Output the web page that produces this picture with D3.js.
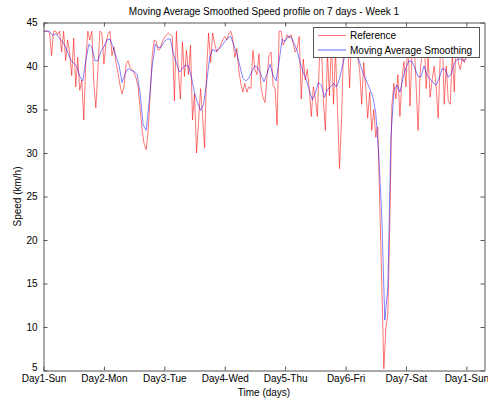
<!DOCTYPE html>
<html><head><meta charset="utf-8">
<script src="https://cdn.jsdelivr.net/npm/d3@7"></script>
<style>
html,body{margin:0;padding:0;background:#fff;}
svg{display:block;font-family:"Liberation Sans",Arial,Helvetica,sans-serif;}
</style></head>
<body>
<svg id="chart" width="488" height="400"></svg>
<script>
const title = "Moving Average Smoothed Speed profile on 7 days - Week 1";
const xLabel = "Time (days)";
const yLabel = "Speed (km/h)";
const dayTickLabels = ["Day1-Sun","Day2-Mon","Day3-Tue","Day4-Wed","Day5-Thu","Day6-Fri","Day7-Sat","Day1-Sun"];
const dayTickValues = [0,1,2,3,4,5,6,7];
const speedTicks = [5,10,15,20,25,30,35,40,45];
const seriesNames = ["Reference","Moving Average Smoothing"];

// Reference speed, one sample every 1/30 day
const refStepDays = 1/30;
const refSpeed = [
44.0,44.0,44.0,43.8,41.2,44.0,44.0,43.6,44.0,41.6,
44.0,40.6,43.0,41.5,38.9,43.2,37.6,41.0,37.2,38.4,
33.8,40.5,44.0,43.0,44.0,38.0,35.2,39.5,44.0,43.8,
40.2,42.6,43.6,44.0,41.2,42.2,40.4,39.2,37.8,36.8,
37.6,40.2,40.6,39.8,39.6,39.2,38.6,37.6,35.0,32.6,
31.0,30.4,32.6,36.8,41.2,43.0,42.8,41.8,42.0,42.8,
43.2,43.6,43.8,43.6,43.4,36.0,44.0,39.4,36.2,42.8,
38.8,41.8,39.0,42.4,33.8,36.8,30.0,33.6,37.4,34.2,
30.6,39.5,43.8,40.4,43.8,42.6,41.6,42.0,42.4,43.0,
43.4,43.0,43.7,44.0,43.2,41.0,42.0,39.5,38.0,37.0,
38.0,37.0,37.6,37.4,41.8,39.6,39.0,41.4,37.6,36.4,
35.8,38.8,41.2,41.6,37.8,37.4,33.2,44.0,44.0,42.4,
43.0,43.6,43.2,43.6,42.6,41.6,42.0,43.4,36.2,40.8,
38.4,39.6,37.2,34.2,37.6,36.2,34.2,40.6,42.8,36.0,
32.6,41.6,36.6,43.0,35.6,41.8,35.0,28.2,33.8,42.2,
44.0,43.0,37.5,44.0,42.5,44.0,41.0,39.6,35.6,40.4,
37.6,34.0,37.0,32.6,35.0,31.8,33.0,24.0,15.0,5.2,
9.8,11.5,22.0,35.5,38.0,36.2,39.0,34.2,38.5,40.5,
37.6,44.0,35.4,41.6,43.0,38.0,32.6,39.0,41.6,44.0,
37.4,41.0,36.4,38.4,40.0,37.6,34.0,41.0,44.0,35.6,
40.0,36.0,35.6,41.5,37.0,44.0,40.4,39.6,41.0,40.4,
41.2
];

// Moving-average smoothed speed, one sample every 1/20 day
const smoothStepDays = 1/20;
const smoothSpeed = [
44.0,44.0,44.0,43.5,43.7,43.3,42.9,42.4,41.6,40.7,
40.3,40.0,38.8,38.3,40.6,42.5,42.2,40.6,40.6,41.7,
42.2,43.0,43.1,42.2,41.1,40.1,38.1,39.1,39.7,39.5,
39.4,39.0,36.8,33.2,32.6,36.0,40.0,42.5,42.1,42.2,
42.8,43.1,43.1,41.4,40.3,39.3,39.7,40.1,40.0,38.7,
36.9,35.8,34.9,35.6,38.1,41.0,41.9,41.7,41.9,42.3,
42.8,43.2,43.4,42.4,41.4,40.0,38.6,38.3,38.6,39.4,
40.0,39.8,39.0,38.2,39.1,40.2,38.9,38.3,40.5,43.1,
42.8,43.4,43.3,42.6,41.7,40.3,39.3,38.4,37.2,36.1,
36.9,38.1,37.8,36.4,37.3,37.6,38.0,37.6,38.5,40.1,
41.5,42.0,42.4,42.0,41.2,40.0,39.0,38.2,37.4,36.5,
34.6,29.8,22.6,10.8,14.5,31.7,37.1,37.8,37.0,38.6,
39.8,40.6,40.5,39.7,38.8,38.8,40.0,38.9,38.5,38.1,
37.8,38.6,39.7,39.6,38.7,39.1,40.3,40.8,40.8,40.6,
40.8
];

const plot = {left: 43.5, right: 484.5, top: 22.5, bottom: 370.5};
const svg = d3.select("#chart");

const x = d3.scaleLinear().domain([0, 7.3]).range([plot.left, plot.right]);
const y = d3.scaleLinear().domain([5, 45]).range([plot.bottom, plot.top]);

const refData = refSpeed.map((v, i) => [i * refStepDays, v]);
const smoothData = smoothSpeed.map((v, i) => [i * smoothStepDays, v]);

const line = d3.line().x(d => x(d[0])).y(d => y(d[1]));

svg.append("rect").attr("x", plot.left).attr("y", plot.top)
  .attr("width", plot.right - plot.left).attr("height", plot.bottom - plot.top)
  .attr("fill", "#fff");

const g = svg.append("g");
g.append("clipPath").attr("id", "clip").append("rect")
  .attr("x", plot.left).attr("y", plot.top)
  .attr("width", plot.right - plot.left).attr("height", plot.bottom - plot.top);

const lines = g.append("g").attr("clip-path", "url(#clip)");
lines.append("path").datum(refData).attr("d", line)
  .attr("fill", "none").attr("stroke", "#ff0000").attr("stroke-width", 0.9)
  .attr("stroke-opacity", 0.6).attr("stroke-linejoin", "round");
lines.append("path").datum(smoothData).attr("d", line)
  .attr("fill", "none").attr("stroke", "#0000ff").attr("stroke-width", 0.9)
  .attr("stroke-opacity", 0.55).attr("stroke-linejoin", "round");

// Axes (MATLAB style: ticks inside, box on all sides)
const axisColor = "#555";
const tickLen = 4;
const xAxisB = d3.axisBottom(x).tickValues(dayTickValues)
  .tickFormat((d, i) => dayTickLabels[i]).tickSizeInner(-tickLen).tickSizeOuter(0).tickPadding(4);
const xAxisT = d3.axisTop(x).tickValues(dayTickValues).tickFormat("").tickSizeInner(-tickLen).tickSizeOuter(0);
const yAxisL = d3.axisLeft(y).tickValues(speedTicks).tickFormat(d3.format("d"))
  .tickSizeInner(-tickLen).tickSizeOuter(0).tickPadding(6);
const yAxisR = d3.axisRight(y).tickValues(speedTicks).tickFormat("").tickSizeInner(-tickLen).tickSizeOuter(0);

function style(sel) {
  sel.selectAll("path.domain").attr("stroke", axisColor);
  sel.selectAll(".tick line").attr("stroke", axisColor);
  sel.selectAll(".tick text").attr("fill", "#000").attr("font-size", 10)
    .attr("font-family", '"Liberation Sans",Arial,Helvetica,sans-serif');
}
svg.append("g").attr("transform", `translate(0,${plot.bottom})`).call(xAxisB).call(style);
svg.append("g").attr("transform", `translate(0,${plot.top})`).call(xAxisT).call(style);
const yl = svg.append("g").attr("transform", `translate(${plot.left},0)`).call(yAxisL).call(style);
// lowest label sits slightly above its tick, as in the reference
yl.selectAll(".tick").filter(d => d === speedTicks[0]).select("text").attr("dy", "-0.05em");
svg.append("g").attr("transform", `translate(${plot.right},0)`).call(yAxisR).call(style);

// Title and axis labels
svg.append("text").attr("x", (plot.left + plot.right) / 2).attr("y", 15)
  .attr("text-anchor", "middle").attr("font-size", 10).text(title);
svg.append("text").attr("x", (plot.left + plot.right) / 2).attr("y", 396)
  .attr("text-anchor", "middle").attr("font-size", 10).text(xLabel);
svg.append("text").attr("transform", `translate(21,${(plot.top + plot.bottom) / 2}) rotate(-90)`)
  .attr("text-anchor", "middle").attr("font-size", 10).text(yLabel);

// Legend
const lg = svg.append("g");
lg.append("rect").attr("x", 313.5).attr("y", 27.5).attr("width", 166).attr("height", 30)
  .attr("fill", "#fff").attr("stroke", axisColor);
const legendColors = ["#ff0000", "#0000ff"];
const legendWidths = [1, 2];
seriesNames.forEach((name, i) => {
  const yy = 35.5 + i * 14.5;
  lg.append("line").attr("x1", 318).attr("x2", 346).attr("y1", yy).attr("y2", yy)
    .attr("stroke", legendColors[i]).attr("stroke-width", legendWidths[i]).attr("stroke-opacity", i ? 0.3 : 0.55);
  lg.append("text").attr("x", 350).attr("y", yy + 3.5).attr("font-size", 10).text(name);
});
</script>
</body></html>
